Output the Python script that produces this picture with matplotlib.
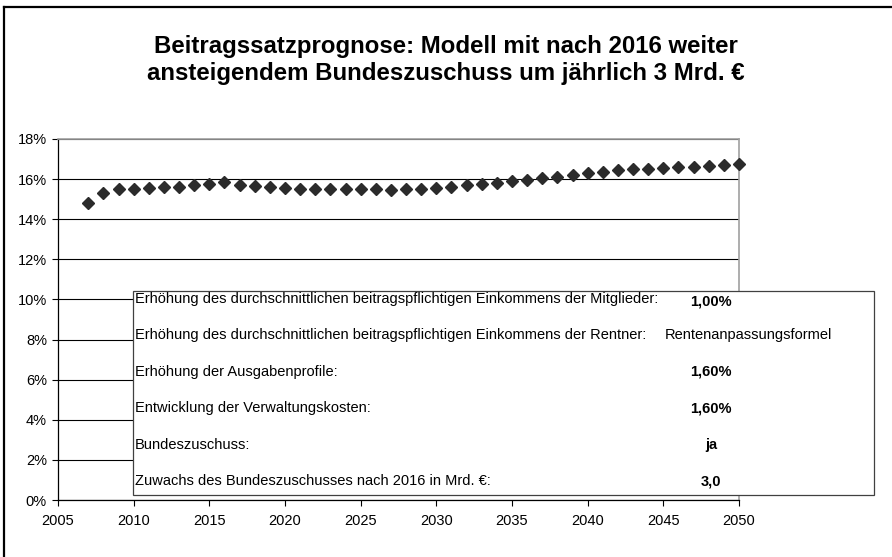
import matplotlib
matplotlib.use("Agg")
import matplotlib.pyplot as plt
from matplotlib.lines import Line2D
from matplotlib.patches import Rectangle
from matplotlib.ticker import FuncFormatter

plt.rcParams['font.family'] = ['Liberation Sans', 'DejaVu Sans']

# Beitragssatz (%) per year
years = list(range(2007, 2051))
rate = [14.80, 15.33, 15.53, 15.53, 15.57, 15.60, 15.63, 15.70, 15.77, 15.88,
        15.70, 15.67, 15.62, 15.57, 15.53, 15.52, 15.52, 15.52, 15.52, 15.52,
        15.47, 15.50, 15.53, 15.57, 15.62, 15.70, 15.77, 15.83, 15.92, 15.98,
        16.05, 16.13, 16.22, 16.28, 16.37, 16.43, 16.48, 16.52, 16.55, 16.58,
        16.62, 16.67, 16.72, 16.77]

# assumptions box
labels = [
    "Erhöhung des durchschnittlichen beitragspflichtigen Einkommens der Mitglieder:",
    "Erhöhung des durchschnittlichen beitragspflichtigen Einkommens der Rentner:",
    "Erhöhung der Ausgabenprofile:",
    "Entwicklung der Verwaltungskosten:",
    "Bundeszuschuss:",
    "Zuwachs des Bundeszuschusses nach 2016 in Mrd. €:",
]
values = ["1,00%", "Rentenanpassungsformel", "1,60%", "1,60%", "ja", "3,0"]
bold_vals = [True, False, True, True, True, True]

title = ("Beitragssatzprognose: Modell mit nach 2016 weiter\n"
         "ansteigendem Bundeszuschuss um jährlich 3 Mrd. €")

W, H = 892, 557
fig = plt.figure(figsize=(W / 100, H / 100), dpi=100)
ax = fig.add_axes([58 / W, 1 - 500 / H, 681 / W, 361 / H])

ax.plot(years, rate, linestyle='none', marker='D', markersize=6,
        color='#2b2b2b', zorder=3, clip_on=False)

ax.set_xlim(2005, 2050)
ax.set_ylim(0, 18)
ax.set_xticks(range(2005, 2051, 5))
ax.set_yticks(range(0, 19, 2))
ax.yaxis.set_major_formatter(FuncFormatter(lambda v, p: "%d%%" % v))
ax.tick_params(direction='out', length=4, width=0.8, labelsize=10.5, colors='black')
ax.tick_params(axis='x', pad=6)
ax.tick_params(axis='y', pad=4)
ax.grid(axis='y', color='black', linewidth=0.8)
ax.set_axisbelow(True)
for s in ['left', 'bottom']:
    ax.spines[s].set_color('black')
    ax.spines[s].set_linewidth(0.9)
for s in ['top', 'right']:
    ax.spines[s].set_color('#a0a0a0')
    ax.spines[s].set_linewidth(1.2)

fig.text(446 / W, 1 - 60 / H, title, ha='center', va='center', fontsize=17.3,
         fontweight='bold', linespacing=1.2)

# outer frame (only top and left visible)
fig.add_artist(Line2D([3.5 / W, 3.5 / W], [0, 1 - 6.5 / H], transform=fig.transFigure,
                      color='black', linewidth=1.6))
fig.add_artist(Line2D([3.5 / W, 1], [1 - 6.5 / H, 1 - 6.5 / H], transform=fig.transFigure,
                      color='black', linewidth=1.6))

# assumptions box
bx0, by0, bx1, by1 = 133, 291, 874, 495
fig.add_artist(Rectangle((bx0 / W, 1 - by1 / H), (bx1 - bx0) / W, (by1 - by0) / H,
                         transform=fig.transFigure, facecolor='white',
                         edgecolor='#404040', linewidth=0.9, zorder=5))
row_y = [299 + 36.4 * i for i in range(len(labels))]
for i, (lab, val) in enumerate(zip(labels, values)):
    y = 1 - row_y[i] / H
    fig.text(135 / W, y, lab, ha='left', va='center', fontsize=10.5, zorder=6)
    vx = 748 if not bold_vals[i] else 711
    fig.text(vx / W, y - (3 / H if i == 0 else 0), val, ha='center', va='center',
             fontsize=10.5, fontweight='bold' if bold_vals[i] else 'normal', zorder=6)

fig.savefig("out.png", dpi=100)
